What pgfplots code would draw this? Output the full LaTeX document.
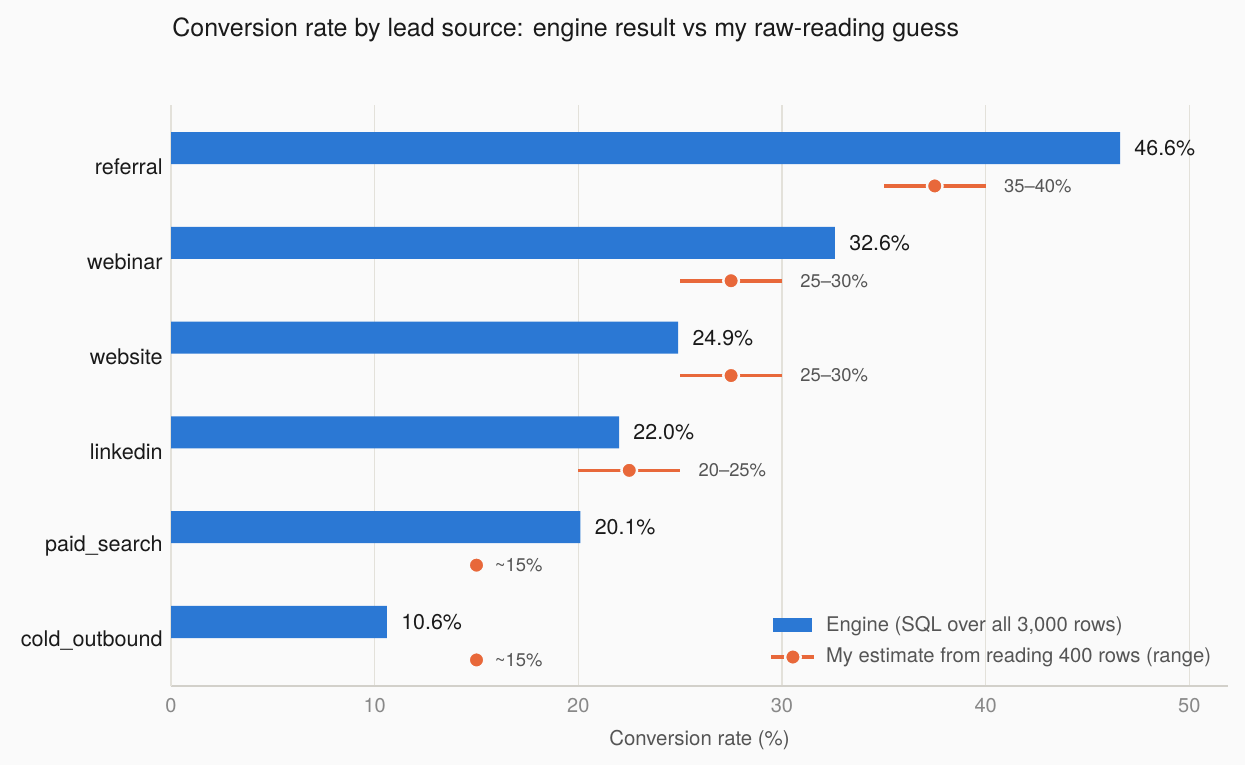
\documentclass[border=0pt]{standalone}
\usepackage{pgfplots}
\pgfplotsset{compat=1.18}
\usepackage{fontspec}
\setmainfont{TeX Gyre Heros}

\definecolor{bg}{HTML}{FAFAFA}
\definecolor{engine}{HTML}{2B78D4}
\definecolor{guess}{HTML}{E8683A}
\definecolor{gridc}{HTML}{E3E1DA}
\definecolor{axisc}{HTML}{D2D0CA}
\definecolor{tickc}{HTML}{888888}
\definecolor{labc}{HTML}{555555}
\definecolor{txt}{HTML}{1A1A1A}

\begin{document}
\begin{tikzpicture}
  % page = 1245 x 765 px at 0.5pt per px
  \useasboundingbox (0,0) rectangle (622.5pt,382.5pt);
  \fill[bg] (0,0) rectangle (622.5pt,382.5pt);
  \node[anchor=west, inner sep=0pt, text=txt, font=\fontsize{12.5}{14}\selectfont]
    at (86pt,367.5pt) {Conversion rate by lead source: engine result vs my raw-reading guess};
  \begin{axis}[
      at={(85.5pt,39.5pt)}, anchor=south west,
      scale only axis, width=528.5pt, height=290.5pt,
      xmin=0, xmax=51.9, ymin=-0.475, ymax=5.654,
      /pgf/number format/assume math mode=true,
      axis x line*=bottom, axis y line*=left,
      x axis line style={axisc, line width=0.9pt, -},
      y axis line style={gridc, line width=0.8pt, -},
      xmajorgrids, major grid style={gridc, line width=0.8pt},
      major tick length=0pt,
      xtick={0,10,...,50},
      ytick={0,...,5},
      yticklabels={cold\_outbound,paid\_search,linkedin,website,webinar,referral},
      xticklabel style={inner sep=0pt, anchor=north, yshift=-6pt, text=tickc,
        font=\fontsize{10}{12}\selectfont},
      yticklabel style={inner sep=0pt, anchor=east, xshift=-4pt, text=txt,
        font=\fontsize{10.8}{12}\selectfont},
      xlabel={Conversion rate (\%)},
      xlabel style={at={(rel axis cs:0.5,0)}, anchor=center, yshift=-27pt,
        text=labc, font=\fontsize{10.2}{12}\selectfont},
      legend style={draw=none, fill=none, at={(rel axis cs:0.566,0.027)},
        anchor=south west, text=labc, font=\fontsize{10.1}{12}\selectfont,
        row sep=3pt, column sep=3pt, inner sep=0pt},
      legend cell align=left,
    ]
    \addplot[xbar, bar width=0.338, bar shift=0pt, fill=engine, draw=none,
      point meta=x,
      nodes near coords={\pgfmathprintnumber[fixed,fixed zerofill,precision=1]{\pgfplotspointmeta}\%},
      nodes near coords style={anchor=west, inner sep=0pt, xshift=7pt, text=txt,
        font=\fontsize{10.7}{12}\selectfont},
      legend image code/.code={\fill[engine] (0pt,-3.4pt) rectangle (19.5pt,3.4pt);}]
      coordinates {(46.6,5.2) (32.6,4.2) (24.9,3.2) (22.0,2.2) (20.1,1.2) (10.6,0.2)};
    \addlegendentry{Engine (SQL over all 3,000 rows)}
    \addplot[only marks, mark=*, mark size=3.9pt,
      mark options={fill=guess, draw=bg, line width=1.2pt},
      error bars/.cd, x dir=both, x explicit, error mark=none,
      error bar style={guess, line width=1.75pt},
      /pgfplots/legend image code/.code={
        \draw[guess, line width=1.75pt] (-1pt,0pt) -- (20.5pt,0pt);
        \fill[guess, draw=bg, line width=1.2pt] (9.75pt,0pt) circle (3.9pt);}]
      coordinates {(37.5,4.8) +- (2.5,0) (27.5,3.8) +- (2.5,0) (27.5,2.8) +- (2.5,0)
                   (22.5,1.8) +- (2.5,0) (15,0.8) +- (0,0) (15,-0.2) +- (0,0)};
    \addlegendentry{My estimate from reading 400 rows (range)}
    % range labels, placed after the upper end of each range
    \addplot[draw=none, mark=none, forget plot, point meta=explicit symbolic,
      nodes near coords,
      nodes near coords style={anchor=west, inner sep=0pt, xshift=9pt, text=labc,
        font=\fontsize{9.2}{11}\selectfont}]
      coordinates {(40,4.8) [35--40\%] (30,3.8) [25--30\%] (30,2.8) [25--30\%]
                   (25,1.8) [20--25\%] (15,0.8) [\textasciitilde15\%] (15,-0.2) [\textasciitilde15\%]};
  \end{axis}
\end{tikzpicture}
\end{document}
